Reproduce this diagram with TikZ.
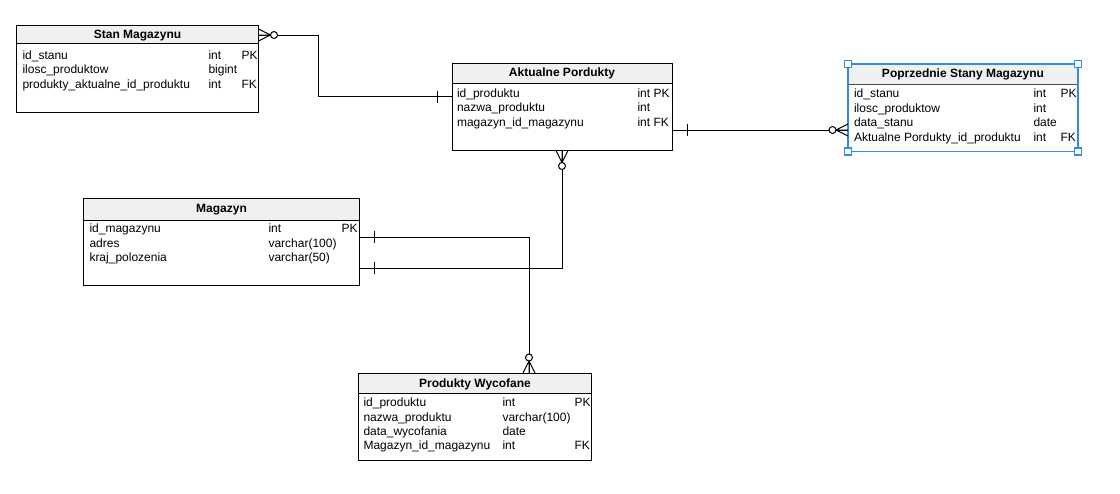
\documentclass[tikz,border=0pt]{standalone}
\usepackage{fontspec}
\setmainfont{Liberation Sans}
\usetikzlibrary{calc,fit}
\definecolor{hdr}{HTML}{F0F0F0}
\definecolor{sel}{HTML}{2E8BE6}
\begin{document}
\begin{tikzpicture}[x=0.75pt,y=-0.75pt,line width=0.75pt,
  font=\fontsize{9}{11}\selectfont,
  tbl/.style={inner sep=0pt,outer sep=0pt},
  ttl/.style={anchor=base,inner sep=0pt,font=\fontsize{9}{11}\selectfont\bfseries},
  cell/.style={anchor=base west,inner sep=0pt},
  zmany/.pic={\draw (0,-6)--(12,0) (0,6)--(12,0) (0,0)--(12,0);
              \draw[fill=white] (15.5,0) circle[radius=3.5];},
  onebar/.pic={\draw (15,-6)--(15,6);}]
\useasboundingbox (0,0) rectangle (1120,493);

% ---------- tables ----------
\node[tbl,fit={(16.5,25.5)(258.5,112)}] (stan) {};
\node[tbl,fit={(452,63.5)(672,150.5)}] (akt) {};
\node[tbl,fit={(848,64)(1078,151.5)}] (prev) {};
\node[tbl,fit={(83.5,198.5)(359.5,285)}] (mag) {};
\node[tbl,fit={(358.5,373)(591.5,460)}] (wyc) {};

% headers
\fill[hdr] (stan.north west) rectangle ($(stan.north east)+(0,18)$);
\draw ($(stan.north west)+(0,18)$) -- ($(stan.north east)+(0,18)$);
\draw (stan.north west) rectangle (stan.south east);
\fill[hdr] (akt.north west) rectangle ($(akt.north east)+(0,20)$);
\draw ($(akt.north west)+(0,20)$) -- ($(akt.north east)+(0,20)$);
\draw (akt.north west) rectangle (akt.south east);
\fill[hdr] (mag.north west) rectangle ($(mag.north east)+(0,21.5)$);
\draw ($(mag.north west)+(0,21.5)$) -- ($(mag.north east)+(0,21.5)$);
\draw (mag.north west) rectangle (mag.south east);
\fill[hdr] (wyc.north west) rectangle ($(wyc.north east)+(0,20.5)$);
\draw ($(wyc.north west)+(0,20.5)$) -- ($(wyc.north east)+(0,20.5)$);
\draw (wyc.north west) rectangle (wyc.south east);
\fill[hdr] (prev.north west) rectangle ($(prev.north east)+(0,20.5)$);
\draw[black!70] ($(prev.north west)+(0,20.5)$) -- ($(prev.north east)+(0,20.5)$);
\draw[sel,line width=1.3pt] (prev.north west) rectangle (prev.south east);
\foreach \c in {north west,north east,south west,south east}
  \draw[sel,fill=white,line width=0.8pt] ($(prev.\c)+(-3.5,-3.5)$) rectangle ++(7,7);

% titles
\node[ttl] (stanT) at (137.5,38.5) {Stan Magazynu};
\node[ttl] (aktT) at (562,76.5) {Aktualne Pordukty};
\node[ttl] (prevT) at (963,77) {Poprzednie Stany Magazynu};
\node[ttl] (magT) at (221.5,212) {Magazyn};
\node[ttl] (wycT) at (475,387) {Produkty Wycofane};

% Stan Magazynu rows
\node[cell] (s1n) at (22,59) {id\_stanu};
\node[cell] (s1t) at (208,59) {int};
\node[cell] (s1k) at (241,59) {PK};
\node[cell] (s2n) at (22,73.5) {ilosc\_produktow};
\node[cell] (s2t) at (208,73.5) {bigint};
\node[cell] (s3n) at (22,88) {produkty\_aktualne\_id\_produktu};
\node[cell] (s3t) at (208,88) {int};
\node[cell] (s3k) at (241,88) {FK};

% Aktualne Pordukty rows
\node[cell] (a1n) at (456.5,97) {id\_produktu};
\node[cell] (a1t) at (637,97) {int PK};
\node[cell] (a2n) at (456.5,111.5) {nazwa\_produktu};
\node[cell] (a2t) at (637,111.5) {int};
\node[cell] (a3n) at (456.5,126) {magazyn\_id\_magazynu};
\node[cell] (a3t) at (637,126) {int FK};

% Poprzednie Stany Magazynu rows
\node[cell] (p1n) at (853.5,97.5) {id\_stanu};
\node[cell] (p1t) at (1033,97.5) {int};
\node[cell] (p1k) at (1060,97.5) {PK};
\node[cell] (p2n) at (853.5,112) {ilosc\_produktow};
\node[cell] (p2t) at (1033,112) {int};
\node[cell] (p3n) at (853.5,126.5) {data\_stanu};
\node[cell] (p3t) at (1033,126.5) {date};
\node[cell] (p4n) at (853.5,141) {Aktualne Pordukty\_id\_produktu};
\node[cell] (p4t) at (1033,141) {int};
\node[cell] (p4k) at (1060,141) {FK};

% Magazyn rows
\node[cell] (m1n) at (89,232.5) {id\_magazynu};
\node[cell] (m1t) at (268,232.5) {int};
\node[cell] (m1k) at (341,232.5) {PK};
\node[cell] (m2n) at (89,247) {adres};
\node[cell] (m2t) at (268,247) {varchar(100)};
\node[cell] (m3n) at (89,261.5) {kraj\_polozenia};
\node[cell] (m3t) at (268,261.5) {varchar(50)};

% Produkty Wycofane rows
\node[cell] (w1n) at (363,406.5) {id\_produktu};
\node[cell] (w1t) at (502,406.5) {int};
\node[cell] (w1k) at (574,406.5) {PK};
\node[cell] (w2n) at (363,421) {nazwa\_produktu};
\node[cell] (w2t) at (502,421) {varchar(100)};
\node[cell] (w3n) at (363,435) {data\_wycofania};
\node[cell] (w3t) at (502,435) {date};
\node[cell] (w4n) at (363,449) {Magazyn\_id\_magazynu};
\node[cell] (w4t) at (502,449) {int};
\node[cell] (w4k) at (574,449) {FK};

% ---------- connectors ----------
% Stan Magazynu -> Aktualne Pordukty
\coordinate (c1a) at ($(stan.north east)+(0,9.5)$);
\coordinate (c1b) at ($(akt.north west)+(0,33)$);
\draw (c1a) -- ($(c1a)+(60,0)$) |- (c1b);
\pic at (c1a) {zmany};
\pic[rotate=180] at (c1b) {onebar};

% Aktualne Pordukty -> Poprzednie Stany Magazynu
\coordinate (c2a) at ($(akt.north east)+(0,66.5)$);
\coordinate (c2b) at (prev.west |- c2a);
\draw (c2a) -- (c2b);
\pic at (c2a) {onebar};
\pic[rotate=180] at (c2b) {zmany};

% Aktualne Pordukty -> Magazyn
\coordinate (c3a) at ($(akt.south west)+(110,0)$);
\coordinate (c3b) at ($(mag.south east)+(0,-17)$);
\draw (c3a) |- (c3b);
\pic[rotate=-90] at (c3a) {zmany};
\pic at (c3b) {onebar};

% Magazyn -> Produkty Wycofane
\coordinate (c4a) at ($(mag.north east)+(0,38.5)$);
\coordinate (c4b) at ($(wyc.north west)+(170.5,0)$);
\draw (c4a) -| (c4b);
\pic at (c4a) {onebar};
\pic[rotate=90] at (c4b) {zmany};
\end{tikzpicture}
\end{document}
